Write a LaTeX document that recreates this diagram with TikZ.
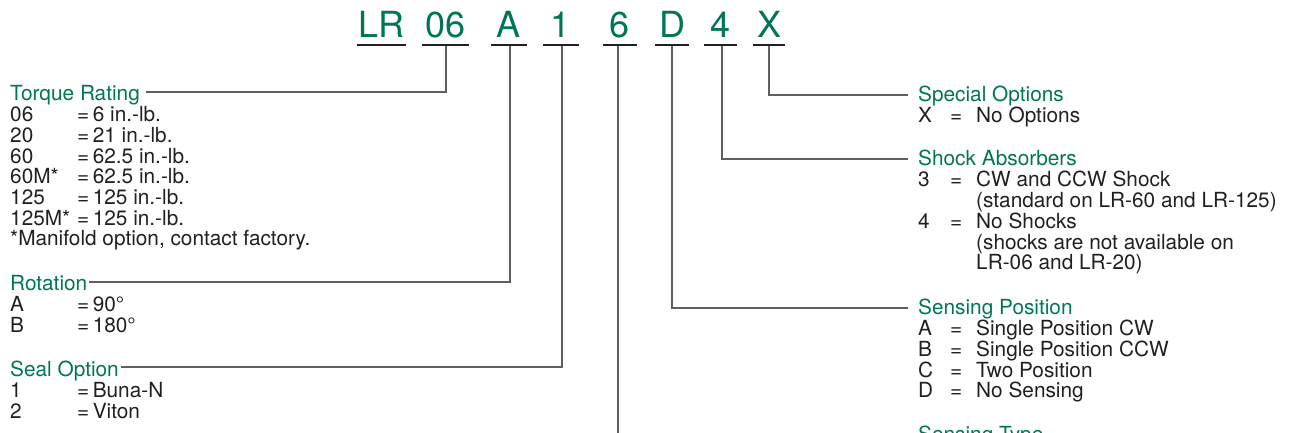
\documentclass[tikz,border=0pt]{standalone}
\usepackage{fontspec}
\setmainfont{TeX Gyre Heros}
\usetikzlibrary{calc}
\definecolor{pgreen}{RGB}{0,118,86}
\definecolor{ink}{RGB}{35,31,32}
\definecolor{lgray}{RGB}{95,95,95}
\begin{document}
\begin{tikzpicture}[x=1bp,y=-1bp,
  code/.style={inner sep=0pt, anchor=base, text=pgreen, font=\fontsize{36bp}{40bp}\selectfont},
  txt/.style={inner sep=0pt, anchor=base west, text=ink, font=\fontsize{20.8bp}{24bp}\selectfont},
  ttl/.style={txt, text=pgreen},
  uline/.style={draw=ink, line width=2.2bp},
  conn/.style={draw=lgray, line width=1.1bp}]
\useasboundingbox (0,0) rectangle (1289,433);
\clip (0,0) rectangle (1289,433);

% code letters
\node[code, minimum width=49bp] (cLR) at (381.5,38) {LR};
\node[code, minimum width=47bp] (c06) at (445.5,38) {06};
\node[code, minimum width=36bp] (cA)  at (509,38) {A};
\node[code, minimum width=36bp] (c1)  at (561,38) {1};
\node[code, minimum width=34bp] (c6)  at (620,38) {6};
\node[code, minimum width=34bp] (cD)  at (672,38) {D};
\node[code, minimum width=33bp] (c4)  at (720.5,38) {4};
\node[code, minimum width=32bp] (cX)  at (769,38) {X};
\foreach \n in {cLR,c06,cA,c1,c6,cD,c4,cX}{
  \draw[uline] ($(\n.base west)+(0,7)$) -- ($(\n.base east)+(0,7)$);
}

% joints
\coordinate (jTorque) at (146,92);
\coordinate (jRot) at (89,282);
\coordinate (jSeal) at (121,367);
\coordinate (jSpec) at (908,95);
\coordinate (jShock) at (908,159);
\coordinate (jSens) at (908,308);
\coordinate (jType) at (618,445);

\draw[conn] ($(c06.base)+(0.5,8)$) |- (jTorque);
\draw[conn] ($(cA.base)+(1,8)$) |- (jRot);
\draw[conn] ($(c1.base)+(1,8)$) |- (jSeal);
\draw[conn] ($(cX.base)+(0,8)$) |- (jSpec);
\draw[conn] ($(c4.base)+(1.5,8)$) |- (jShock);
\draw[conn] ($(cD.base)+(0,8)$) |- (jSens);
\draw[conn] ($(c6.base)+(-2,8)$) -- (jType);

% left column
\node[ttl] (tTorque) at (10,101) {Torque Rating};
\node[txt] (tk1) at (10,121.7) {06};    \node[txt] (tv1) at (77,121.7) {=\,6 in.-lb.};
\node[txt] (tk2) at (10,142.4) {20};    \node[txt] (tv2) at (77,142.4) {=\,21 in.-lb.};
\node[txt] (tk3) at (10,163.1) {60};    \node[txt] (tv3) at (77,163.1) {=\,62.5 in.-lb.};
\node[txt] (tk4) at (10,183.8) {60M*};  \node[txt] (tv4) at (77,183.8) {=\,62.5 in.-lb.};
\node[txt] (tk5) at (10,204.5) {125};   \node[txt] (tv5) at (77,204.5) {=\,125 in.-lb.};
\node[txt] (tk6) at (10,225.2) {125M*}; \node[txt] (tv6) at (77,225.2) {=\,125 in.-lb.};
\node[txt] (tnote) at (10,245.9) {*Manifold option, contact factory.};

\node[ttl] (tRot) at (10,291) {Rotation};
\node[txt] (rk1) at (10,311.7) {A}; \node[txt] (rv1) at (77,311.7) {=\,90°};
\node[txt] (rk2) at (10,332.4) {B}; \node[txt] (rv2) at (77,332.4) {=\,180°};

\node[ttl] (tSeal) at (10,377) {Seal Option};
\node[txt] (sk1) at (10,397.7) {1}; \node[txt] (sv1) at (77,397.7) {=\,Buna-N};
\node[txt] (sk2) at (10,418.4) {2}; \node[txt] (sv2) at (77,418.4) {=\,Viton};

% right column
\node[ttl] (tSpec) at (918,102) {Special Options};
\node[txt] (xk1) at (918,123) {X}; \node[txt] (xe1) at (950,123) {=}; \node[txt] (xv1) at (976,123) {No Options};

\node[ttl] (tShock) at (918,166) {Shock Absorbers};
\node[txt] (hk1) at (918,187) {3}; \node[txt] (he1) at (950,187) {=}; \node[txt] (hv1) at (976,187) {CW and CCW Shock};
\node[txt] (hv1b) at (976,207.7) {(standard on LR-60 and LR-125)};
\node[txt] (hk2) at (918,228.4) {4}; \node[txt] (he2) at (950,228.4) {=}; \node[txt] (hv2) at (976,228.4) {No Shocks};
\node[txt] (hv2b) at (976,249.1) {(shocks are not available on};
\node[txt] (hv2c) at (976,269.8) {LR-06 and LR-20)};

\node[ttl] (tSens) at (918,315) {Sensing Position};
\node[txt] (pk1) at (918,335.7) {A}; \node[txt] (pe1) at (950,335.7) {=}; \node[txt] (pv1) at (976,335.7) {Single Position CW};
\node[txt] (pk2) at (918,356.4) {B}; \node[txt] (pe2) at (950,356.4) {=}; \node[txt] (pv2) at (976,356.4) {Single Position CCW};
\node[txt] (pk3) at (918,377.1) {C}; \node[txt] (pe3) at (950,377.1) {=}; \node[txt] (pv3) at (976,377.1) {Two Position};
\node[txt] (pk4) at (918,397.8) {D}; \node[txt] (pe4) at (950,397.8) {=}; \node[txt] (pv4) at (976,397.8) {No Sensing};

\node[ttl] (tType) at (918,442) {Sensing Type};
\end{tikzpicture}
\end{document}
